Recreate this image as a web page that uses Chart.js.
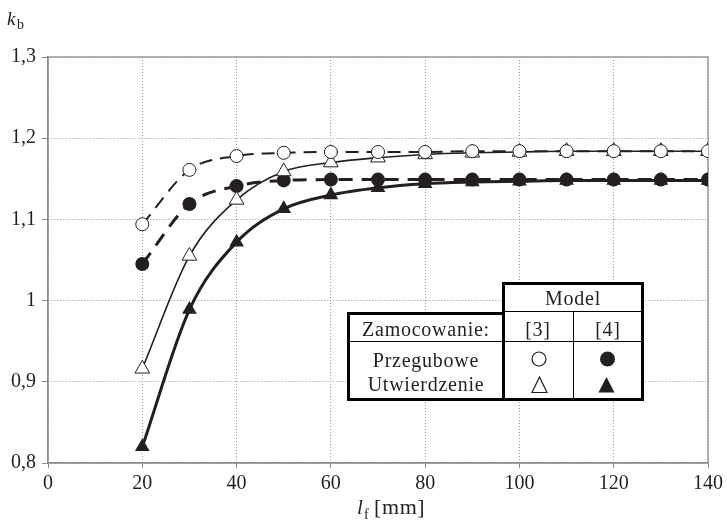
<!DOCTYPE html>
<html>
<head>
<meta charset="utf-8">
<title>kb vs lf</title>
<script src="https://cdn.jsdelivr.net/npm/chart.js"></script>
<style>
  body { margin: 0; background: #fff; }
  #wrap { position: relative; width: 727px; height: 529px; font-family: "Liberation Serif", "Times New Roman", "DejaVu Serif", serif; color: #231f20; }
  #wrap canvas, #wrap svg { position: absolute; left: 0; top: 0; }
  .lbl { position: absolute; white-space: nowrap; line-height: 1; }
  .c { transform: translate(-50%, -50%); font-size: 20px; letter-spacing: 0.75px; }
</style>
</head>
<body>
<div id="wrap">
  <canvas id="myChart" width="727" height="529"></canvas>

  <!-- axis titles -->
  <div class="lbl" style="left:7px; top:9px; font-size:19px;"><i>k</i></div>
  <div class="lbl" style="left:17px; top:18px; font-size:14px;">b</div>
  <div class="lbl" style="left:357px; top:497px; font-size:21px;"><i>l</i></div>
  <div class="lbl" style="left:364px; top:508px; font-size:14px;">f</div>
  <div class="lbl" style="left:374px; top:496px; font-size:22px; letter-spacing:0.6px;">[mm]</div>

  <!-- legend table -->
  <svg width="727" height="529">
    <rect x="348.5" y="313.5" width="155" height="86" fill="#fff" stroke="#000" stroke-width="3"/>
    <rect x="503.5" y="283.5" width="139" height="116" fill="#fff" stroke="#000" stroke-width="3"/>
    <line x1="505" y1="311.5" x2="641" y2="311.5" stroke="#000" stroke-width="1"/>
    <line x1="350" y1="341.5" x2="641" y2="341.5" stroke="#000" stroke-width="1"/>
    <line x1="573.5" y1="312" x2="573.5" y2="398" stroke="#000" stroke-width="1"/>
    <circle cx="539" cy="359" r="7" fill="#fff" stroke="#231f20" stroke-width="1.2"/>
    <circle cx="607.5" cy="359" r="7.5" fill="#231f20"/>
    <polygon points="539.5,377 532,392.5 547,392.5" fill="#fff" stroke="#231f20" stroke-width="1.2"/>
    <polygon points="606.5,377 598.5,392.5 614.5,392.5" fill="#231f20"/>
  </svg>
  <div class="lbl c" style="left:573px; top:298px;">Model</div>
  <div class="lbl c" style="left:426px; top:329px;">Zamocowanie:</div>
  <div class="lbl c" style="left:538px; top:329px;">[3]</div>
  <div class="lbl c" style="left:608px; top:329px;">[4]</div>
  <div class="lbl c" style="left:426px; top:360px;">Przegubowe</div>
  <div class="lbl c" style="left:426px; top:384px;">Utwierdzenie</div>
</div>

<script>
// fibre length l_f [mm]
var lf = [20, 30, 40, 50, 60, 70, 80, 90, 100, 110, 120, 130, 140];

// k_b values
var przegubowe3   = [1.094, 1.161, 1.178, 1.182, 1.183, 1.183, 1.183, 1.184, 1.184, 1.184, 1.184, 1.184, 1.184];
var przegubowe4   = [1.045, 1.119, 1.141, 1.148, 1.149, 1.149, 1.149, 1.149, 1.149, 1.149, 1.149, 1.149, 1.149];
var utwierdzenie3 = [0.916, 1.055, 1.124, 1.159, 1.170, 1.176, 1.180, 1.182, 1.183, 1.184, 1.184, 1.184, 1.184];
var utwierdzenie4 = [0.820, 0.989, 1.072, 1.113, 1.130, 1.139, 1.144, 1.146, 1.147, 1.148, 1.148, 1.148, 1.148];

var xTicks = [0, 20, 40, 60, 80, 100, 120, 140];
var yTicks = [0.8, 0.9, 1.0, 1.1, 1.2, 1.3];

function pts(ys) {
    return lf.map(function(x, i) { return {x: x, y: ys[i]}; });
}

var ink = '#231f20';
var axisGray = '#8c8c8c';
var serif = '"Liberation Serif", "Times New Roman", "DejaVu Serif", serif';

// solid frame on top and right of the plot area
var framePlugin = {
    id: 'frame',
    beforeDatasetsDraw: function(chart) {
        var a = chart.chartArea, c = chart.ctx;
        c.save();
        c.strokeStyle = axisGray;
        c.lineWidth = 1.3;
        c.strokeRect(a.left, a.top, a.right - a.left, a.bottom - a.top);
        c.restore();
    }
};

var ctx = document.getElementById("myChart").getContext("2d");
var chart = new Chart(ctx, {
    type: 'line',
    data: {
        datasets: [{
            label: 'Przegubowe [3]',
            data: pts(przegubowe3),
            borderColor: ink,
            borderWidth: 2,
            borderDash: [13, 8],
            pointStyle: 'circle',
            pointRadius: 6.5,
            pointBackgroundColor: '#fff',
            pointBorderColor: ink,
            pointBorderWidth: 1
        }, {
            label: 'Utwierdzenie [3]',
            data: pts(utwierdzenie3),
            borderColor: ink,
            borderWidth: 1.6,
            pointStyle: 'triangle',
            pointRadius: 8.5,
            pointBackgroundColor: '#fff',
            pointBorderColor: ink,
            pointBorderWidth: 1
        }, {
            label: 'Przegubowe [4]',
            data: pts(przegubowe4),
            borderColor: ink,
            borderWidth: 3,
            borderDash: [14, 9],
            pointStyle: 'circle',
            pointRadius: 7,
            pointBackgroundColor: ink,
            pointBorderColor: ink,
            pointBorderWidth: 0
        }, {
            label: 'Utwierdzenie [4]',
            data: pts(utwierdzenie4),
            borderColor: ink,
            borderWidth: 3,
            pointStyle: 'triangle',
            pointRadius: 8.5,
            pointBackgroundColor: ink,
            pointBorderColor: ink,
            pointBorderWidth: 0
        }]
    },
    options: {
        responsive: false,
        animation: false,
        events: [],
        datasets: { line: { fill: false, cubicInterpolationMode: 'monotone' } },
        layout: { padding: { top: 57, right: 17, left: 0, bottom: 0 } },
        plugins: { legend: { display: false }, tooltip: { enabled: false } },
        scales: {
            x: {
                type: 'linear',
                min: 0,
                max: 140,
                afterFit: function(s) { s.height = 66; },
                afterBuildTicks: function(s) { s.ticks = xTicks.map(function(v) { return {value: v}; }); },
                grid: { color: '#9a9a9a', lineWidth: 1, tickLength: 5, tickColor: axisGray },
                border: { color: axisGray, width: 1.3, dash: [1, 2] },
                ticks: {
                    padding: 4,
                    color: ink,
                    font: { family: serif, size: 20 },
                    maxRotation: 0
                }
            },
            y: {
                min: 0.8,
                max: 1.3,
                afterFit: function(s) { s.width = 48; },
                afterBuildTicks: function(s) { s.ticks = yTicks.map(function(v) { return {value: v}; }); },
                grid: { color: '#9a9a9a', lineWidth: 1, tickLength: 6, tickColor: axisGray },
                border: { color: axisGray, width: 1.3, dash: [1, 2] },
                ticks: {
                    padding: 6,
                    color: ink,
                    font: { family: serif, size: 20 },
                    callback: function(v) {
                        return (Math.round(v * 10) / 10).toString().replace('.', ',');
                    }
                }
            }
        }
    },
    plugins: [framePlugin]
});
</script>
</body>
</html>
